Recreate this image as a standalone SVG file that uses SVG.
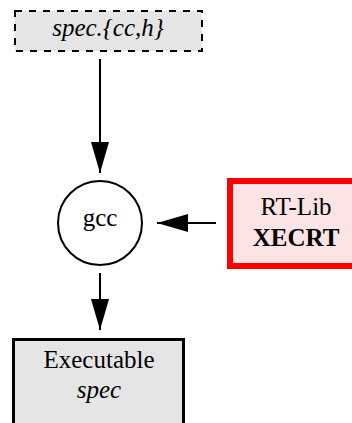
<svg xmlns="http://www.w3.org/2000/svg" width="352" height="423" viewBox="0 0 352 423">
  <style>
    text { font-family: "Liberation Serif", "Times New Roman", serif; font-size: 25px; fill: #000; text-anchor: middle; }
    .it { font-style: italic; }
    .bd { font-weight: bold; }
    .edge { stroke: #000; stroke-width: 2; fill: none; }
  </style>
  <defs>
    <marker id="arrow" markerUnits="userSpaceOnUse" markerWidth="32" markerHeight="18" refX="31" refY="9" orient="auto">
      <path d="M0,0 L31,9 L0,18 Z" fill="#000"/>
    </marker>
  </defs>

  <g id="spec-src">
    <rect x="15" y="11" width="187" height="40" fill="#e5e5e5" stroke="#000" stroke-width="2" stroke-dasharray="7,7"/>
    <text class="it" x="108" y="36">spec.{cc,h}</text>
  </g>

  <g id="gcc">
    <circle cx="100" cy="223" r="42" fill="#fff" stroke="#000" stroke-width="2"/>
    <text x="100" y="226">gcc</text>
  </g>

  <g id="rt-lib">
    <rect x="230" y="181" width="130" height="85" fill="#fde4e4" stroke="#ff0000" stroke-width="6"/>
    <text x="296" y="215">RT-Lib</text>
    <text class="bd" x="296" y="246">XECRT</text>
  </g>

  <g id="executable">
    <rect x="13.5" y="339.5" width="170" height="100" fill="#e5e5e5" stroke="#000" stroke-width="3"/>
    <text x="99" y="368">Executable</text>
    <text class="it" x="99" y="398">spec</text>
  </g>

  <g id="connectors">
    <line class="edge" x1="100" y1="59" x2="100" y2="173" marker-end="url(#arrow)"/>
    <line class="edge" x1="216" y1="223" x2="157" y2="223" marker-end="url(#arrow)"/>
    <line class="edge" x1="100" y1="273" x2="100" y2="330" marker-end="url(#arrow)"/>
  </g>
</svg>
